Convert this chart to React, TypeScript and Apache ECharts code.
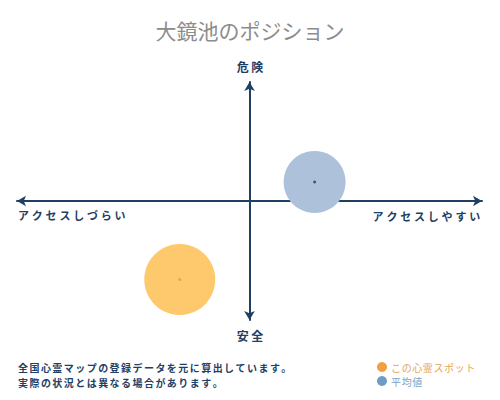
import React, { useEffect, useRef } from 'react';
import * as echarts from 'echarts';

// 値（x: アクセス、y: 危険度）
const seriesNames = ['この心霊スポット', '平均値'];
const accessValues = [-0.3, 0.28];
const dangerValues = [-0.66, 0.16];
const axisTexts = ['危険', '安全', 'アクセスしづらい', 'アクセスしやすい'];
const noteLines = ['全国心霊マップの登録データを元に算出しています。', '実際の状況とは異なる場合があります。'];

const FONT = "'Noto Sans CJK JP', sans-serif";
const NAVY = '#1f3f63';

// 1文字ずつ並べて字間を空ける
const spreadText = (
  text: string,
  x: number,
  y: number,
  pitch: number,
  size: number,
  align: 'left' | 'right' | 'center',
  weight = 'bold'
) => {
  const chars = text.split('');
  let start = x;
  if (align === 'right') start = x - pitch * chars.length;
  if (align === 'center') start = x - (pitch * (chars.length - 1) + size) / 2;
  return chars.map((c, i) => ({
    type: 'text',
    x: start + i * pitch,
    y,
    style: { text: c, fill: NAVY, font: `${weight} ${size}px ${FONT}`, textAlign: 'left', textVerticalAlign: 'middle' },
  }));
};

const App = () => {
  const chartRef = useRef<HTMLDivElement>(null);

  useEffect(() => {
    if (!chartRef.current) return;
    const chart = echarts.init(chartRef.current, null, { renderer: 'svg' });

    const bubbleColors = ['#fdc96c', '#adc2da'];
    const dotColors = ['#ec9a2c', '#1f3f63'];
    const legendColors = ['#f0a040', '#6f9cc6'];
    const legendText = ['#e3a35a', '#7f9fbf'];
    const sizes = [71, 62];

    const option = {
      animation: false,
      title: {
        text: '大鏡池のポジション',
        left: 'center',
        top: 14,
        textStyle: { color: '#8c8c8c', fontSize: 21, fontWeight: 'normal', fontFamily: FONT },
      },
      grid: { left: 17, right: 18, top: 82, bottom: 80 },
      xAxis: {
        type: 'value',
        min: -1,
        max: 1,
        axisLine: {
          onZero: true,
          symbol: ['arrow', 'arrow'],
          symbolSize: [8, 9],
          lineStyle: { color: NAVY, width: 2 },
        },
        axisTick: { show: false },
        axisLabel: { show: false },
        splitLine: { show: false },
      },
      yAxis: {
        type: 'value',
        min: -1,
        max: 1,
        axisLine: {
          onZero: true,
          symbol: ['arrow', 'arrow'],
          symbolSize: [8, 9],
          lineStyle: { color: NAVY, width: 2 },
        },
        axisTick: { show: false },
        axisLabel: { show: false },
        splitLine: { show: false },
      },
      legend: {
        orient: 'vertical',
        left: 377,
        top: 362,
        padding: 0,
        itemWidth: 10,
        itemHeight: 10,
        itemGap: 4,
        icon: 'circle',
        formatter: (name: string) => name.split('').join('\u200A'),
        data: seriesNames.map((name, i) => ({
          name,
          itemStyle: { color: legendColors[i] },
          textStyle: { color: legendText[i], fontSize: 10, lineHeight: 10, fontFamily: FONT, padding: [0, 0, 0, -1] },
        })),
      },
      series: [
        ...seriesNames.map((name, i) => ({
          name,
          type: 'scatter',
          symbolSize: sizes[i],
          itemStyle: { color: bubbleColors[i], opacity: 1 },
          data: [[accessValues[i], dangerValues[i]]],
          z: 2,
        })),
        ...seriesNames.map((name, i) => ({
          name: name + '_dot',
          type: 'scatter',
          symbolSize: 3,
          itemStyle: { color: dotColors[i] },
          data: [[accessValues[i], dangerValues[i]]],
          z: 3,
        })),
      ],
      graphic: [
        ...spreadText(axisTexts[0], 250, 66, 14.5, 12, 'center'),
        ...spreadText(axisTexts[1], 250, 335, 14.5, 12, 'center'),
        ...spreadText(axisTexts[2], 18, 215, 13.8, 11, 'left'),
        ...spreadText(axisTexts[3], 483, 216, 13.8, 11, 'right'),
        ...noteLines.flatMap((line, i) => spreadText(line, 18, 367 + i * 15, 11.45, 10, 'left')),
      ],
    };

    chart.setOption(option as any);
    return () => {
      chart.dispose();
    };
  }, []);

  return <div ref={chartRef} style={{ width: '500px', height: '400px', margin: '-8px' }}></div>;
};

export default App;
